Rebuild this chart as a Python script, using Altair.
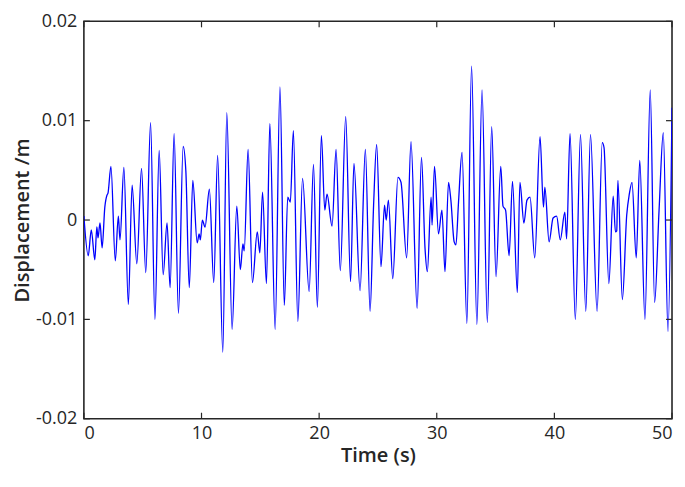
import altair as alt
import pandas as pd

time_s = [0.0, 0.37, 0.63, 0.93, 1.1, 1.2, 1.37, 1.55, 1.78, 1.96, 2.05, 2.3, 2.67, 2.93, 3.07, 3.4,
          3.78, 4.1, 4.5, 4.9, 5.26, 5.67, 6.04, 6.4, 6.74, 7.07, 7.33, 7.67, 8.04, 8.44, 8.67, 8.96,
          9.26, 9.63, 9.8, 9.9, 10.07, 10.3, 10.67, 11.04, 11.37, 11.81, 12.15, 12.6, 13.0, 13.3,
          13.52, 13.63, 13.96, 14.33, 14.74, 14.96, 15.19, 15.52, 15.81, 16.26, 16.67, 17.04, 17.33,
          17.55, 17.81, 18.19, 18.59, 19.15, 19.52, 19.85, 20.19, 20.48, 20.67, 21.1, 21.44, 21.8,
          22.26, 22.67, 22.96, 23.48, 23.93, 24.33, 24.63, 24.89, 25.26, 25.56, 25.7, 25.89, 26.26,
          26.7, 26.96, 27.44, 27.81, 28.33, 28.7, 29.0, 29.2, 29.52, 29.6, 29.81, 30.15, 30.44, 30.7,
          31.0, 31.2, 31.48, 31.63, 31.85, 32.15, 32.56, 32.96, 33.41, 33.85, 34.3, 34.67, 35.04,
          35.44, 35.63, 35.85, 36.15, 36.44, 36.85, 37.07, 37.41, 37.67, 37.93, 38.33, 38.78, 39.07,
          39.19, 39.55, 39.89, 40.19, 40.5, 40.89, 41.04, 41.33, 41.78, 42.22, 42.67, 43.07, 43.63,
          44.07, 44.22, 44.63, 45.0, 45.19, 45.3, 45.4, 45.78, 46.15, 46.37, 46.6, 46.96, 47.26,
          47.7, 48.15, 48.52, 48.9, 49.26, 49.66, 50.0]

disp_m = [0.0004, -0.0036, -0.001, -0.004, -0.0007, -0.0018, -0.0003, -0.0028, 0.0013, 0.0025,
          0.0027, 0.0054, -0.0041, 0.0004, -0.002, 0.0053, -0.0085, 0.0035, -0.0044, 0.0052,
          -0.0053, 0.0098, -0.010, 0.007, -0.0055, -0.0003, -0.0068, 0.0087, -0.0094, 0.0074,
          0.0049, -0.0068, 0.004, -0.0023, -0.0014, -0.002, 0.0, -0.0007, 0.0031, -0.0063, 0.0065,
          -0.0133, 0.0108, -0.011, 0.0014, -0.005, -0.0024, -0.0031, 0.0071, -0.0063, -0.0012,
          -0.0033, 0.0028, -0.0064, 0.0097, -0.011, 0.0134, -0.0086, 0.0023, 0.0018, 0.009,
          -0.0102, 0.0042, -0.0072, 0.0056, -0.0088, 0.0085, 0.001, 0.0026, -0.0006, 0.0071,
          -0.0051, 0.0104, -0.0062, 0.0057, -0.0071, 0.0071, -0.0092, 0.0015, 0.0076, -0.0047,
          0.0015, 0.0, 0.002, -0.0059, 0.0043, 0.0038, -0.0038, 0.0079, -0.0089, 0.0063, -0.0028,
          -0.0052, 0.0023, -0.0005, 0.0054, -0.0014, 0.001, -0.0052, 0.0038, 0.002, -0.0022,
          -0.0025, 0.0018, 0.0068, -0.0104, 0.0155, -0.0105, 0.0131, -0.0103, 0.0094, -0.0057,
          0.0054, 0.0014, 0.001, -0.0036, 0.0039, -0.0073, 0.0038, -0.0003, 0.002, 0.0023, -0.0038,
          0.0084, 0.0013, 0.0033, -0.0022, 0.0002, 0.0004, -0.002, 0.0008, -0.0019, 0.0087, -0.010,
          0.0086, -0.0092, 0.0086, -0.0092, 0.0078, 0.0073, -0.0064, 0.0024, -0.0012, -0.0011,
          0.004, -0.008, 0.0005, 0.0026, 0.0038, -0.0038, 0.006, -0.010, 0.0131, -0.0083, 0.001,
          0.0088, -0.0112, 0.0113]

x_ticks = [0, 10, 20, 30, 40, 50]
y_ticks = [-0.02, -0.01, 0, 0.01, 0.02]

W, H = 589, 398
FONT = "Open Sans"
INK = "#262626"

df = pd.DataFrame({"t": time_s, "d": disp_m})
xs = alt.Scale(domain=[0, 50], nice=False, zero=False)
ys = alt.Scale(domain=[-0.02, 0.02], nice=False, zero=False)

x_axis = alt.Axis(values=x_ticks, title="Time (s)", ticks=False, grid=False,
                  labelPadding=6, titlePadding=3, domain=False)
y_axis = alt.Axis(values=y_ticks, title="Displacement /m", ticks=False, grid=False,
                  labelPadding=7, titlePadding=3, domain=False,
                  labelExpr="datum.value == 0 ? '0' : (datum.value < 0 ? '-' : '') + format(abs(datum.value), '.2~f')")

line = alt.Chart(df).mark_line(
    color="#0000FF", strokeWidth=1.3, interpolate="monotone", clip=True
).encode(
    x=alt.X("t:Q", scale=xs, axis=x_axis),
    y=alt.Y("d:Q", scale=ys, axis=y_axis),
)

xt = pd.DataFrame({"t": x_ticks})
yt = pd.DataFrame({"d": y_ticks})

bottom_ticks = alt.Chart(xt).mark_rule(color=INK, strokeWidth=1.2).encode(
    x=alt.X("t:Q", scale=xs, axis=x_axis), y=alt.value(H), y2=alt.value(H - 6))
top_ticks = alt.Chart(xt).mark_rule(color=INK, strokeWidth=1.2).encode(
    x=alt.X("t:Q", scale=xs, axis=x_axis), y=alt.value(0), y2=alt.value(6))
left_ticks = alt.Chart(yt).mark_rule(color=INK, strokeWidth=1.2).encode(
    y=alt.Y("d:Q", scale=ys, axis=y_axis), x=alt.value(0), x2=alt.value(6))
right_ticks = alt.Chart(yt).mark_rule(color=INK, strokeWidth=1.2).encode(
    y=alt.Y("d:Q", scale=ys, axis=y_axis), x=alt.value(W), x2=alt.value(W - 6))

chart = alt.layer(line, bottom_ticks, top_ticks, left_ticks, right_ticks).properties(
    width=W, height=H, padding={"left": 4, "top": 4, "right": 4, "bottom": 3}
).configure_view(
    stroke=INK, strokeWidth=1.6
).configure_axis(
    labelFont=FONT, titleFont=FONT, labelFontSize=18, titleFontSize=20,
    labelColor=INK, titleColor=INK, titleFontWeight=600,
)

chart.save("out.html", embed_options={"renderer": "svg", "actions": False})
